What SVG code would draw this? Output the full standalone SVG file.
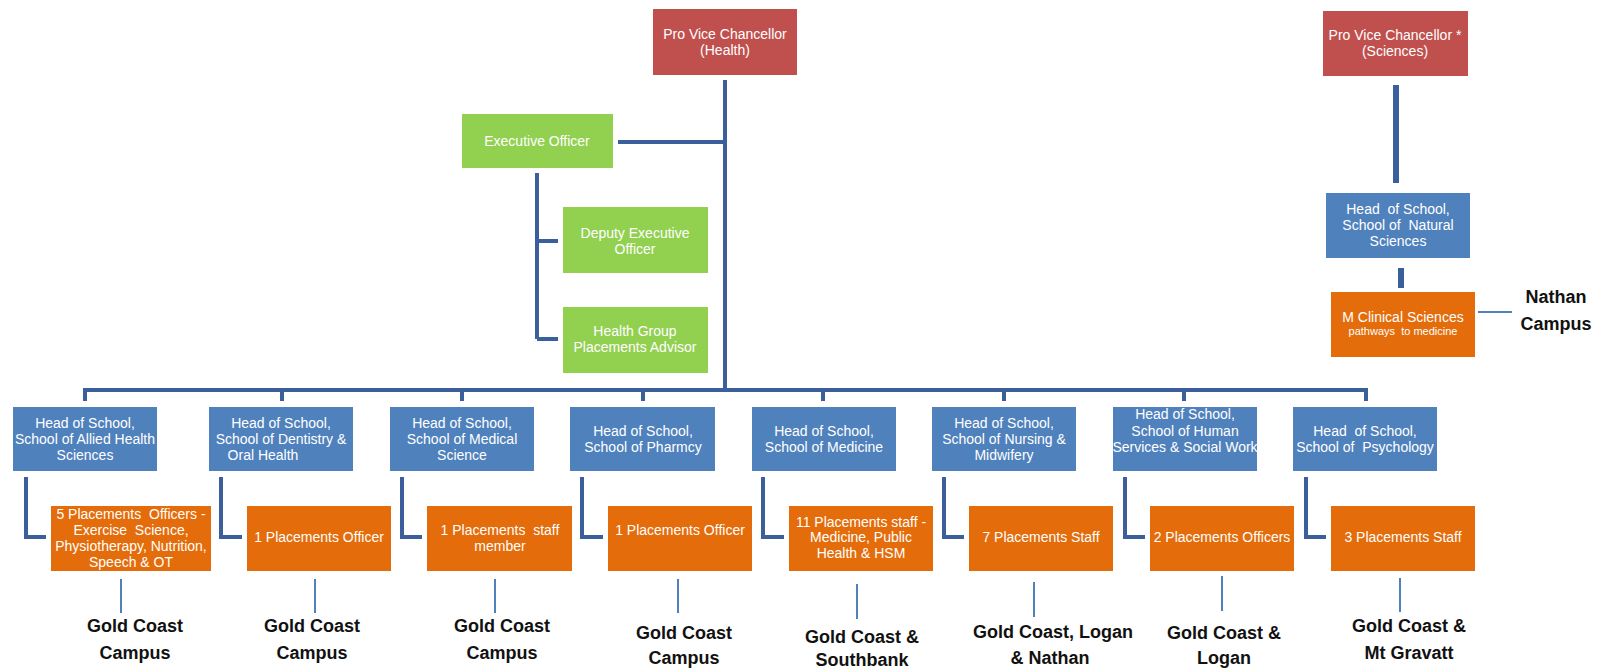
<svg xmlns="http://www.w3.org/2000/svg" width="1604" height="670" viewBox="0 0 1604 670">
<style>
.red{fill:#C0504D}
.blue{fill:#4F81BD}
.green{fill:#92D050}
.orange{fill:#E46C0A}
.t{font-family:"Liberation Sans",Arial,sans-serif;font-size:14px;fill:#fff;text-anchor:middle;white-space:pre}
.s{font-size:11px}
.c{font-family:"Liberation Sans",Arial,sans-serif;font-size:18px;font-weight:bold;fill:#111;text-anchor:middle}
.k{stroke:#3A5F9A;stroke-width:4;fill:none}
.k6{stroke:#3A5F9A;stroke-width:6;fill:none}
.th{stroke:#4F81BD;stroke-width:2;fill:none}
</style>
<rect width="1604" height="670" fill="#fff"/>
<g id="connectors">
<path class="k" d="M725 80V390M618 142H725M537 173V339M537 241H558M537 339H558"/>
<path class="k" d="M85 401V390H1366V401M282 390V401M462 390V401M643 390V401M823 390V401M1004 390V401M1184 390V401"/>
<path class="k" d="M26 477V537H46M221 477V537H242M402 477V537H422M582 477V537H603M763 477V537H784M944 477V537H964M1125 477V537H1145M1306 477V537H1326"/>
<path class="k6" d="M1396 85V183M1401 268V288"/>
<path class="th" d="M121 579V613M315 579V613M495 579V613M678 579V613M857 584V619M1034 582V617M1222 576V611M1400 578V612M1478 312H1512"/>
</g>
<g id="pvc-health"><rect class="red" x="653" y="9" width="144" height="66"/><text class="t" x="725" y="39">Pro Vice Chancellor</text><text class="t" x="725" y="55">(Health)</text></g>
<g id="pvc-sciences"><rect class="red" x="1323" y="11" width="145" height="65"/><text class="t" x="1395" y="40">Pro Vice Chancellor *</text><text class="t" x="1395" y="56">(Sciences)</text></g>
<g id="exec"><rect class="green" x="462" y="114" width="151" height="54"/><text class="t" x="537" y="146">Executive Officer</text></g>
<g id="deputy"><rect class="green" x="563" y="207" width="145" height="66"/><text class="t" x="635" y="238">Deputy Executive</text><text class="t" x="635" y="254">Officer</text></g>
<g id="advisor"><rect class="green" x="563" y="307" width="145" height="66"/><text class="t" x="635" y="336">Health Group</text><text class="t" x="635" y="352">Placements Advisor</text></g>
<g id="hos-natural"><rect class="blue" x="1326" y="193" width="144" height="65"/><text class="t" x="1398" y="214">Head  of School,</text><text class="t" x="1398" y="230">School of  Natural</text><text class="t" x="1398" y="246">Sciences</text></g>
<g id="mclin"><rect class="orange" x="1331" y="292" width="144" height="65"/><text class="t" x="1403" y="322">M Clinical Sciences</text><text class="t s" x="1403" y="335">pathways  to medicine</text></g>
<g id="nathan-label"><text class="c" x="1556" y="303">Nathan</text><text class="c" x="1556" y="330">Campus</text></g>

<g id="hos1"><rect class="blue" x="13" y="407" width="144" height="64"/><text class="t" x="85" y="428">Head of School,</text><text class="t" x="85" y="444">School of Allied Health</text><text class="t" x="85" y="460">Sciences</text></g>
<g id="hos2"><rect class="blue" x="209" y="407" width="144" height="64"/><text class="t" x="281" y="428">Head of School,</text><text class="t" x="281" y="444">School of Dentistry &amp;</text><text class="t" x="263" y="460">Oral Health</text></g>
<g id="hos3"><rect class="blue" x="390" y="407" width="144" height="64"/><text class="t" x="462" y="428">Head of School,</text><text class="t" x="462" y="444">School of Medical</text><text class="t" x="462" y="460">Science</text></g>
<g id="hos4"><rect class="blue" x="570" y="407" width="145" height="64"/><text class="t" x="643" y="436">Head of School,</text><text class="t" x="643" y="452">School of Pharmcy</text></g>
<g id="hos5"><rect class="blue" x="752" y="407" width="144" height="64"/><text class="t" x="824" y="436">Head of School,</text><text class="t" x="824" y="452">School of Medicine</text></g>
<g id="hos6"><rect class="blue" x="932" y="407" width="144" height="64"/><text class="t" x="1004" y="428">Head of School,</text><text class="t" x="1004" y="444">School of Nursing &amp;</text><text class="t" x="1004" y="460">Midwifery</text></g>
<g id="hos7"><rect class="blue" x="1113" y="407" width="144" height="64"/><text class="t" x="1185" y="419">Head of School,</text><text class="t" x="1185" y="436">School of Human</text><text class="t" x="1185" y="452">Services &amp; Social Work</text></g>
<g id="hos8"><rect class="blue" x="1293" y="407" width="144" height="64"/><text class="t" x="1365" y="436">Head  of School,</text><text class="t" x="1365" y="452">School of  Psychology</text></g>

<g id="pl1"><rect class="orange" x="51" y="506" width="160" height="65"/><text class="t" x="131" y="519">5 Placements  Officers -</text><text class="t" x="131" y="535">Exercise  Science,</text><text class="t" x="131" y="551">Physiotherapy, Nutrition,</text><text class="t" x="131" y="567">Speech &amp; OT</text></g>
<g id="pl2"><rect class="orange" x="247" y="506" width="144" height="65"/><text class="t" x="319" y="542">1 Placements Officer</text></g>
<g id="pl3"><rect class="orange" x="427" y="506" width="145" height="65"/><text class="t" x="500" y="535">1 Placements  staff</text><text class="t" x="500" y="551">member</text></g>
<g id="pl4"><rect class="orange" x="608" y="506" width="144" height="65"/><text class="t" x="680" y="535">1 Placements Officer</text></g>
<g id="pl5"><rect class="orange" x="789" y="506" width="144" height="65"/><text class="t" x="861" y="527">11 Placements staff -</text><text class="t" x="861" y="542">Medicine, Public</text><text class="t" x="861" y="558">Health &amp; HSM</text></g>
<g id="pl6"><rect class="orange" x="969" y="506" width="144" height="65"/><text class="t" x="1041" y="542">7 Placements Staff</text></g>
<g id="pl7"><rect class="orange" x="1150" y="506" width="144" height="65"/><text class="t" x="1222" y="542">2 Placements Officers</text></g>
<g id="pl8"><rect class="orange" x="1331" y="506" width="144" height="65"/><text class="t" x="1403" y="542">3 Placements Staff</text></g>

<g id="campus1"><text class="c" x="135" y="632">Gold Coast</text><text class="c" x="135" y="659">Campus</text></g>
<g id="campus2"><text class="c" x="312" y="632">Gold Coast</text><text class="c" x="312" y="659">Campus</text></g>
<g id="campus3"><text class="c" x="502" y="632">Gold Coast</text><text class="c" x="502" y="659">Campus</text></g>
<g id="campus4"><text class="c" x="684" y="639">Gold Coast</text><text class="c" x="684" y="664">Campus</text></g>
<g id="campus5"><text class="c" x="862" y="643">Gold Coast &amp;</text><text class="c" x="862" y="666">Southbank</text></g>
<g id="campus6"><text class="c" x="1053" y="638">Gold Coast, Logan</text><text class="c" x="1050" y="664">&amp; Nathan</text></g>
<g id="campus7"><text class="c" x="1224" y="639">Gold Coast &amp;</text><text class="c" x="1224" y="664">Logan</text></g>
<g id="campus8"><text class="c" x="1409" y="632">Gold Coast &amp;</text><text class="c" x="1409" y="659">Mt Gravatt</text></g>
</svg>
